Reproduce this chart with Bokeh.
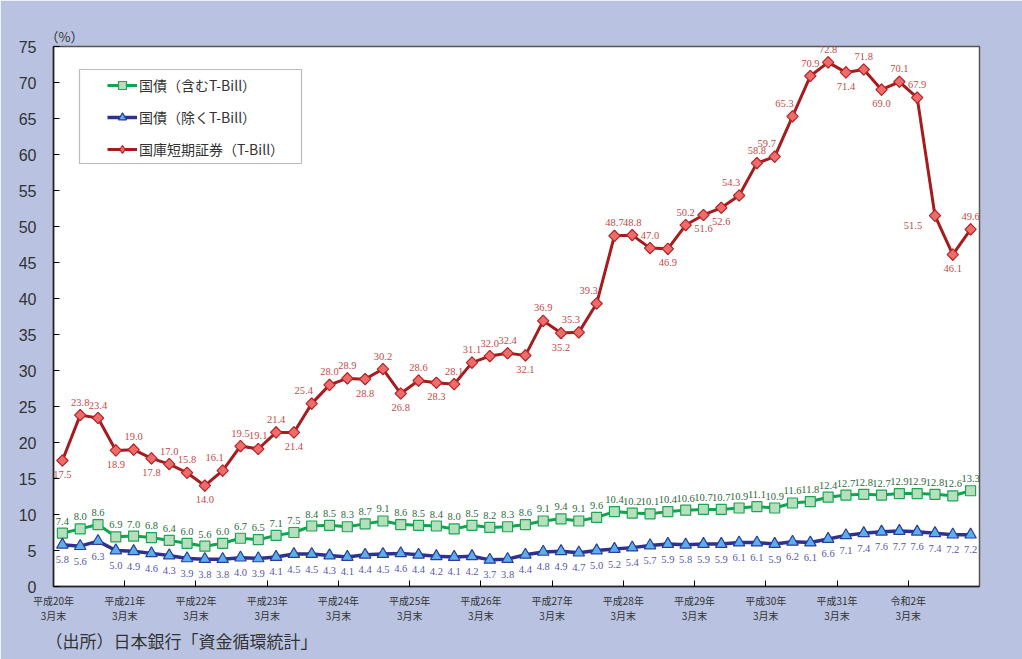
import math
from bokeh.plotting import figure
from bokeh.models import ColumnDataSource, FixedTicker, Title, Legend, LegendItem, BoxAnnotation
from bokeh.core.properties import value
from bokeh.embed import file_html
from bokeh.resources import INLINE

# ---- data ----
tick_labels = ["平成20年\n3月末", "平成21年\n3月末", "平成22年\n3月末", "平成23年\n3月末",
               "平成24年\n3月末", "平成25年\n3月末", "平成26年\n3月末", "平成27年\n3月末",
               "平成28年\n3月末", "平成29年\n3月末", "平成30年\n3月末", "平成31年\n3月末",
               "令和2年\n3月末"]

jgb_incl = [7.4, 8.0, 8.6, 6.9, 7.0, 6.8, 6.4, 6.0, 5.6, 6.0,
            6.7, 6.5, 7.1, 7.5, 8.4, 8.5, 8.3, 8.7, 9.1, 8.6,
            8.5, 8.4, 8.0, 8.5, 8.2, 8.3, 8.6, 9.1, 9.4, 9.1,
            9.6, 10.4, 10.2, 10.1, 10.4, 10.6, 10.7, 10.7, 10.9, 11.1,
            10.9, 11.6, 11.8, 12.4, 12.7, 12.8, 12.7, 12.9, 12.9, 12.8,
            12.6, 13.3]

jgb_excl = [5.8, 5.6, 6.3, 5.0, 4.9, 4.6, 4.3, 3.9, 3.8, 3.8,
            4.0, 3.9, 4.1, 4.5, 4.5, 4.3, 4.1, 4.4, 4.5, 4.6,
            4.4, 4.2, 4.1, 4.2, 3.7, 3.8, 4.4, 4.8, 4.9, 4.7,
            5.0, 5.2, 5.4, 5.7, 5.9, 5.8, 5.9, 5.9, 6.1, 6.1,
            5.9, 6.2, 6.1, 6.6, 7.1, 7.4, 7.6, 7.7, 7.6, 7.4,
            7.2, 7.2]

tbill = [17.5, 23.8, 23.4, 18.9, 19.0, 17.8, 17.0, 15.8, 14.0, 16.1,
         19.5, 19.1, 21.4, 21.4, 25.4, 28.0, 28.9, 28.8, 30.2, 26.8,
         28.6, 28.3, 28.1, 31.1, 32.0, 32.4, 32.1, 36.9, 35.2, 35.3,
         39.3, 48.7, 48.8, 47.0, 46.9, 50.2, 51.6, 52.6, 54.3, 58.8,
         59.7, 65.3, 70.9, 72.8, 71.4, 71.8, 69.0, 70.1, 67.9, 51.5,
         46.1, 49.6]

# label placement for T-Bill labels (style): a=above, b=below, l=left, al=above-left
tbill_pos = ["b", "a", "a", "b", "a", "b", "a", "a", "b", "al",
             "a", "a", "a", "b", "al", "a", "a", "b", "a", "b",
             "a", "b", "a", "a", "a", "a", "b", "a", "b", "al",
             "al", "a", "a", "a", "b", "a", "b", "b", "al", "a",
             "al", "al", "a", "a", "b", "a", "b", "a", "a", "l",
             "b", "a"]

n = len(tbill)
xs = list(range(n))

BG = "#b9c3e1"
RED_LINE, RED_FILL, RED_EDGE, RED_TXT = "#a51c1f", "#ef6c6a", "#b3262a", "#c44a48"
GRN_LINE, GRN_FILL, GRN_EDGE, GRN_TXT = "#10a450", "#b5dfbd", "#1ea453", "#2e6a3c"
BLU_LINE, BLU_FILL, BLU_EDGE, BLU_TXT = "#30308f", "#5cb0ea", "#2b3c9c", "#5656b0"

p = figure(width=1022, height=659, output_backend="svg", toolbar_location=None,
           x_range=(-0.5, n - 0.5), y_range=(0, 75),
           min_border_left=53, min_border_right=43, min_border_top=46, min_border_bottom=73)
p.border_fill_color = BG
p.background_fill_color = "white"
p.outline_line_color = "#555555"
p.outline_line_width = 1.5
p.grid.visible = False

# y axis
p.yaxis.ticker = FixedTicker(ticks=list(range(0, 80, 5)))
p.yaxis.major_tick_in = 6
p.yaxis.major_tick_out = 0
p.yaxis.minor_tick_line_color = None
p.yaxis.major_label_standoff = 17
p.yaxis.major_label_text_font = "Liberation Sans"
p.yaxis.major_label_text_font_size = "16px"
p.yaxis.major_label_text_color = "#333333"
p.yaxis.axis_line_color = "#222222"
p.yaxis.axis_line_width = 1.5

# x axis
tick_pos = [4 * i - 0.5 for i in range(len(tick_labels))]
p.xaxis.ticker = FixedTicker(ticks=tick_pos)
p.xaxis.major_label_overrides = {t: lab for t, lab in zip(tick_pos, tick_labels)}
p.xaxis.major_tick_in = 6
p.xaxis.major_tick_out = 0
p.xaxis.minor_tick_line_color = None
p.xaxis.major_label_standoff = 6
p.xaxis.major_label_text_font = "Noto Sans CJK JP"
p.xaxis.major_label_text_font_size = "10px"
p.xaxis.major_label_text_color = "#333333"
p.xaxis.major_label_text_line_height = 1.0
p.xaxis.axis_line_color = "#222222"
p.xaxis.axis_line_width = 1.5

# legend frame (drawn first so the legend sits on top)
p.add_layout(BoxAnnotation(left=26, right=248, bottom=423, top=517,
                           left_units="screen", right_units="screen",
                           bottom_units="screen", top_units="screen",
                           fill_color="white", fill_alpha=1,
                           line_color="#222222", line_width=1.2, level="overlay"))

# series
r_gl = p.line(xs, jgb_incl, line_color=GRN_LINE, line_width=3)
r_gm = p.scatter(xs, jgb_incl, marker="square", size=10, fill_color=GRN_FILL,
                 line_color=GRN_EDGE, line_width=1.2)
r_bl = p.line(xs, jgb_excl, line_color=BLU_LINE, line_width=3.5)
r_bm = p.scatter(xs, jgb_excl, marker="triangle", size=11.5, fill_color=BLU_FILL,
                 line_color=BLU_EDGE, line_width=1.2)
r_rl = p.line(xs, tbill, line_color=RED_LINE, line_width=3)
# diamond (used for the legend swatch) hidden under the rotated-square markers
r_rleg = p.scatter(xs, tbill, marker="diamond", size=11, fill_color=RED_FILL,
                   line_color=RED_EDGE, line_width=1.2)
r_rm = p.scatter(xs, tbill, marker="square", angle=math.pi / 4, size=8, fill_color=RED_FILL,
                 line_color=RED_EDGE, line_width=1.2)

LBL_FONT = value("Liberation Sans Narrow")
LBL_SIZE = "10.5px"

# labels
p.text(xs, jgb_incl, text=[f"{v:.1f}" for v in jgb_incl], x_offset=0, y_offset=-12,
       text_align="center", text_baseline="middle", text_font=LBL_FONT,
       text_font_size=LBL_SIZE, text_color=GRN_TXT)
p.text(xs, jgb_excl, text=[f"{v:.1f}" for v in jgb_excl], x_offset=0, y_offset=15,
       text_align="center", text_baseline="middle", text_font=LBL_FONT,
       text_font_size=LBL_SIZE, text_color=BLU_TXT)

off = {"a": (0, -13), "b": (0, 14), "l": (-22, 10), "al": (-8, -13)}
xo = [off[k][0] for k in tbill_pos]
yo = [off[k][1] for k in tbill_pos]
src = ColumnDataSource(dict(x=xs, y=tbill, t=[f"{v:.1f}" for v in tbill], xo=xo, yo=yo))
p.text("x", "y", text="t", x_offset="xo", y_offset="yo", source=src,
       text_align="center", text_baseline="middle", text_font=LBL_FONT,
       text_font_size=LBL_SIZE, text_color=RED_TXT)

legend = Legend(items=[
    LegendItem(label="国債（含むT-Bill）", renderers=[r_gl, r_gm]),
    LegendItem(label="国債（除くT-Bill）", renderers=[r_bl, r_bm]),
    LegendItem(label="国庫短期証券（T-Bill）", renderers=[r_rl, r_rleg]),
], location=(54, 427))
legend.label_text_font = "Noto Sans CJK JP"
legend.label_text_font_size = "14px"
legend.label_text_color = "#333333"
legend.glyph_width = 30
legend.glyph_height = 20
legend.label_height = 20
legend.spacing = 12
legend.padding = 0
legend.margin = 0
legend.border_line_color = None
legend.background_fill_alpha = 0
legend.label_standoff = 2
p.add_layout(legend, "center")

# (%) unit label
unit = Title(text="（%）", align="left", text_font="Noto Sans CJK JP",
             text_font_size="13px", text_color="#333333", text_font_style="normal",
             standoff=2, offset=-8)
p.add_layout(unit, "above")

# source note
note = Title(text="（出所）日本銀行「資金循環統計」", align="left", text_font="Noto Sans CJK JP",
             text_font_size="17px", text_color="#333333", text_font_style="normal",
             standoff=0, offset=-8)
p.add_layout(note, "below")

open("out.html", "w").write(file_html(p, INLINE))
